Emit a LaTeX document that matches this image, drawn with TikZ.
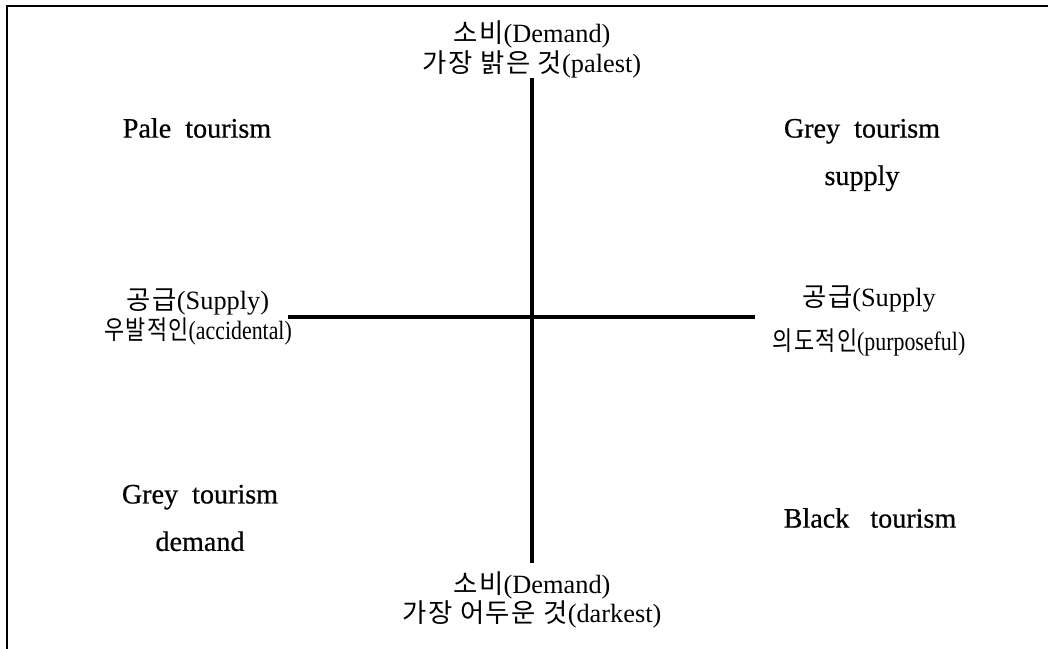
\documentclass[tikz,border=0pt]{standalone}
\usepackage{fontspec}
\usepackage{graphicx}
\setmainfont{Liberation Serif}
\newfontfamily\quadfont[FakeBold=0.6]{Liberation Serif}
\newfontfamily\krfont[LetterSpace=6]{Noto Sans CJK KR}
\newcommand{\kr}[1]{{\krfont #1}}
\usetikzlibrary{positioning}

\begin{document}
\begin{tikzpicture}[
  x=0.02cm, y=-0.02cm,
  quad/.style={align=center, inner sep=0pt, font=\fontsize{16}{27}\quadfont},
  axlabel/.style={align=center, inner sep=0pt, font=\fontsize{15}{17}\selectfont},
  axisline/.style={line width=1.8pt},
  frameline/.style={line width=0.6pt}
]
  \useasboundingbox (0,0) rectangle (1048,649);

  % open frame (top and left only)
  \coordinate (fbl) at (7,649);
  \coordinate (ftl) at (7,6);
  \coordinate (ftr) at (1048,6);
  \draw[frameline] (fbl) -- (ftl) -- (ftr);

  % axis ends
  \coordinate (ytop) at (532,78);
  \coordinate (ybot) at (532,563);
  \coordinate (xlft) at (288,317);
  \coordinate (xrgt) at (755,317);

  % axis labels
  \node[axlabel] (demtop) at (532,49) {\kr{소비}(Demand)\\\kr{가장 밝은 것}(palest)};
  \node[axlabel, font=\fontsize{15}{15}\selectfont] (dembot) at (532,600) {\kr{소비}(Demand)\\\kr{가장 어두운 것}(darkest)};
  \node[axlabel] (suplft) at (198,317) {\kr{공급}(Supply)\\\scalebox{0.83}[1]{\kr{우발적인}(accidental)}};
  \node[axlabel, font=\fontsize{15}{25}\selectfont] (suprgt) at (869,321) {\kr{공급}(Supply\\\scalebox{0.83}[1]{\kr{의도적인}(purposeful)}};

  % quadrants
  \node[quad] (pale) at (197,128) {Pale~~tourism};
  \node[quad] (greysup) at (862,155) {Grey~~tourism\\supply};
  \node[quad] (greydem) at (200,518) {Grey~~tourism\\demand};
  \node[quad] (black) at (870,518) {Black~~~tourism};

  \draw[axisline] (ytop) -- (ybot);
  \draw[axisline] (xlft) -- (xrgt);
\end{tikzpicture}
\end{document}
